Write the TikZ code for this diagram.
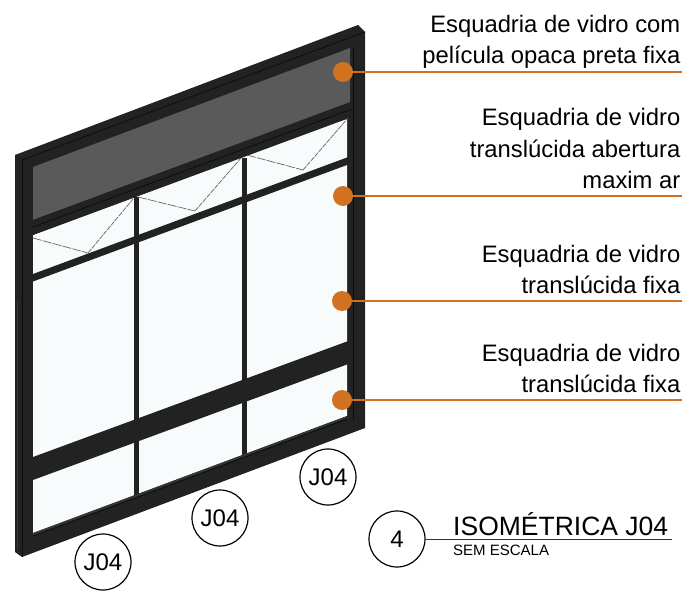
\documentclass[tikz,border=0pt]{standalone}
\usepackage{fontspec}
\setmainfont{Liberation Sans}
\definecolor{frameblk}{HTML}{222222}
\definecolor{frameline}{HTML}{0C0C0C}
\definecolor{frameedge}{HTML}{353535}
\definecolor{glassc}{HTML}{F8FBFB}
\definecolor{opaque}{HTML}{5A5A5A}
\definecolor{leader}{HTML}{D2711F}
\tikzset{
  x=1pt,y=-1pt,
  framepart/.style={fill=frameblk,draw=none},
  glass/.style={fill=glassc,draw=none},
  grooves/.style={draw=frameline,line width=0.8pt},
  swing/.style={draw=gray!80!black,line width=0.7pt,dash pattern=on 9pt off 1.2pt},
  swingb/.style={draw=gray!80!black,line width=0.7pt,dash pattern=on 5pt off 1pt},
  dot/.style={circle,fill=leader,draw=none,minimum size=20pt,inner sep=0pt},
  leaderline/.style={draw=leader,line width=1.1pt},
  callout/.style={anchor=south east,align=right,inner sep=0pt,font=\fontsize{23.8}{31.5}\selectfont},
  tag/.style={circle,draw=black,line width=1.2pt,minimum size=56pt,inner sep=0pt,font=\fontsize{24}{24}\selectfont},
  titleline/.style={draw=black!80,line width=1pt},
}
\begin{document}
\begin{tikzpicture}
\useasboundingbox (0,0) rectangle (684,591);
\fill[white] (0,0) rectangle (684,591);
% frame
\path[framepart] (15,155) -- (358,25) -- (365,32) -- (365,428) -- (22,557) -- (15,552) -- cycle;
\draw[grooves] (22,160) -- (22,557);
\draw[grooves] (22,160) -- (365,32);
\draw[frameedge,line width=1pt] (17,300) -- (17,550);
\draw[frameline,line width=0.6pt] (353,48) -- (353,420);
% glass
\path[glass] (33,235) -- (347,118) -- (347,416) -- (33,533) -- cycle;
% opaque panel
\path[fill=opaque] (33,167) -- (350,48) -- (350,102) -- (33,220) -- cycle;
% upper transom
\path[framepart] (33,220) -- (352,102) -- (352,117) -- (33,235) -- cycle;
\draw[grooves] (33,227) -- (352,109);
% mullions
\path[framepart] (133.5,197) rectangle (138.5,499);
\path[framepart] (241.5,158) rectangle (246.5,461);
% thin transom
\path[framepart] (33,274) -- (351,156) -- (351,163.5) -- (33,281.5) -- cycle;
% wide transom
\path[framepart] (33,457) -- (351,340) -- (351,363) -- (33,480) -- cycle;
% bottom sill shading
\path[fill=frameedge] (33,533) -- (347,416) -- (347,418) -- (33,536) -- cycle;
\draw[grooves] (33,536) -- (347,419);
% awning marks
\draw[swing] (33,238) -- (88,253);
\draw[swingb] (88,253) -- (133,199);
\draw[swing] (138,197) -- (195,211);
\draw[swingb] (195,211) -- (241,158);
\draw[swing] (247,155) -- (303,170);
\draw[swingb] (303,170) -- (348,118);
% callouts
\node[dot] (d1) at (343,72) {};
\node[dot] (d2) at (343,196) {};
\node[dot] (d3) at (342,301) {};
\node[dot] (d4) at (342,400) {};
\coordinate (e1) at (682,72);
\coordinate (e2) at (682,196);
\coordinate (e3) at (682,301);
\coordinate (e4) at (682,400);
\draw[leaderline] (d1) -- (e1);
\draw[leaderline] (d2) -- (e2);
\draw[leaderline] (d3) -- (e3);
\draw[leaderline] (d4) -- (e4);
\node[callout] (t1) at (680.5,69) {Esquadria de vidro com\\película opaca preta fixa};
\node[callout] (t2) at (680.5,189) {Esquadria de vidro\\translúcida abertura\\maxim ar};
\node[callout] (t3) at (680.5,294) {Esquadria de vidro\\translúcida fixa};
\node[callout] (t4) at (680.5,393) {Esquadria de vidro\\translúcida fixa};
% tags
\node[tag] (j1) at (103,562) {J04};
\node[tag] (j2) at (220,518) {J04};
\node[tag] (j3) at (328,477) {J04};
% title
\node[tag,font=\fontsize{24}{28}\selectfont] (n4) at (397,539) {4};
\coordinate (tend) at (672,539);
\draw[titleline] (n4) -- (tend);
\node[anchor=base west,inner sep=0pt,font=\fontsize{26.5}{30}\selectfont] (title) at (453,535) {ISOMÉTRICA J04};
\node[anchor=base west,inner sep=0pt,font=\fontsize{15}{17}\selectfont] (scale) at (453,555) {SEM ESCALA};
\end{tikzpicture}
\end{document}
